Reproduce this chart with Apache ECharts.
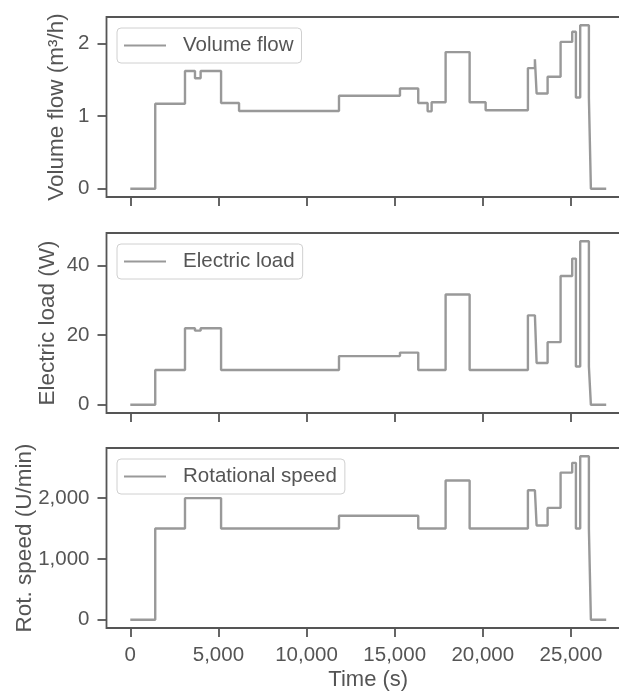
<!DOCTYPE html>
<html>
<head>
<meta charset="utf-8">
<script src="https://cdn.jsdelivr.net/npm/echarts@6/dist/echarts.min.js"></script>
<style>
  html, body { margin: 0; padding: 0; background: #fff; }
  #chart { width: 619px; height: 693px; }
</style>
</head>
<body>
<div id="chart"></div>
<script>
// Shared breakpoints (s); each value holds from its time until the next time
const times = [0, 1415, 3103, 3670, 3990, 5150, 6170, 11840, 15300, 16336, 16868, 17095, 17889, 19251, 20159, 22558, 22955, 23051, 23675, 24412, 25071, 25281, 25525, 26018, 26131, 27000];
const volumeFlow = [0, 1.17, 1.62, 1.52, 1.62, 1.18, 1.07, 1.28, 1.38, 1.18, 1.065, 1.19, 1.88, 1.19, 1.08, 1.66, 1.78, 1.31, 1.54, 2.02, 2.16, 1.255, 2.25, 1.255, 0, 0];
const electricLoad = [0, 10, 22, 21.3, 22, 10, 10, 14, 15, 10, 10, 10, 31.7, 10, 10, 25.7, 25.7, 12, 18, 37, 42, 11, 47, 11, 0, 0];
const rotSpeed = [0, 1500, 2000, 2000, 2000, 1500, 1500, 1710, 1710, 1500, 1500, 1500, 2290, 1500, 1500, 2130, 2130, 1550, 1840, 2420, 2580, 1500, 2690, 1500, 0, 0];

const xTicks = [0, 5000, 10000, 15000, 20000, 25000];
const volTicks = [0, 1, 2];
const loadTicks = [0, 20, 40];
const speedTicks = [0, 1000, 2000];

const seriesNames = ['Volume flow', 'Electric load', 'Rotational speed'];
const yNames = ['Volume flow (m³/h)', 'Electric load (W)', 'Rot. speed (U/min)'];

function fmt(v) { return String(Math.round(v)).replace(/\B(?=(\d{3})+(?!\d))/g, ','); }
function pairs(vals) { return times.map((t, i) => [t, vals[i]]); }
function padRange(vals) {
  const lo = Math.min(...vals), hi = Math.max(...vals), m = (hi - lo) * 0.05;
  return [lo - m, hi + m];
}

const FONT = "'Liberation Sans', Arial, sans-serif";
const SPINE = '#555555';
const TXT = '#555555';
const LINE = '#999999';

const tops = [17, 233, 448];
const gridH = 180;
const xMin = times[0] - (times[times.length - 1] - times[0]) * 0.05;
const xMax = times[times.length - 1] + (times[times.length - 1] - times[0]) * 0.05;

const valueSets = [volumeFlow, electricLoad, rotSpeed];
const yTickSets = [volTicks, loadTicks, speedTicks];
const nameGaps = [49.5, 58.5, 81.5];

const grids = [], xAxes = [], yAxes = [], series = [], legends = [];
for (let i = 0; i < 3; i++) {
  grids.push({ left: 106.5, right: -11, top: tops[i], height: gridH, show: true,
    outerBoundsMode: 'none', containLabel: false,
    borderColor: SPINE, borderWidth: 1.8, backgroundColor: 'transparent' });
  const isBottom = i === 2;
  xAxes.push({
    type: 'value', gridIndex: i, min: xMin, max: xMax,
    axisLine: { show: false, onZero: false },
    splitLine: { show: false },
    axisTick: { show: true, inside: false, length: 9, customValues: xTicks, lineStyle: { color: SPINE, width: 1.8 } },
    axisLabel: { show: isBottom, customValues: xTicks, formatter: fmt, margin: 17,
      fontFamily: FONT, fontSize: 20.5, color: TXT },
    name: isBottom ? 'Time (s)' : '', nameLocation: 'middle', nameGap: 52, nameMoveOverlap: false,
    nameTextStyle: { fontFamily: FONT, fontSize: 22, color: TXT, verticalAlign: 'middle' }
  });
  const r = padRange(valueSets[i]);
  yAxes.push({
    type: 'value', gridIndex: i, min: r[0], max: r[1],
    axisLine: { show: false, onZero: false },
    splitLine: { show: false },
    axisTick: { show: true, inside: false, length: 9, customValues: yTickSets[i], lineStyle: { color: SPINE, width: 1.8 } },
    axisLabel: { customValues: yTickSets[i], formatter: fmt, margin: 17,
      fontFamily: FONT, fontSize: 20.5, color: TXT },
    name: yNames[i], nameLocation: 'middle', nameGap: nameGaps[i], nameMoveOverlap: false,
    nameTextStyle: { fontFamily: FONT, fontSize: 22.5, color: TXT, verticalAlign: 'middle', align: 'center' }
  });
  series.push({
    name: seriesNames[i], type: 'line', xAxisIndex: i, yAxisIndex: i,
    data: pairs(valueSets[i]), step: 'end', showSymbol: false,
    lineStyle: { color: LINE, width: 2.4 }, itemStyle: { color: LINE }
  });
  legends.push({
    data: [seriesNames[i]], left: 117, top: tops[i] + 11, orient: 'horizontal',
    icon: 'rect', itemWidth: 42, itemHeight: 2.2,
    padding: [7, 8, 7, 7],
    borderColor: '#d0d0d0', borderWidth: 1, borderRadius: 4,
    backgroundColor: 'rgba(255,255,255,0.8)',
    textStyle: { fontFamily: FONT, fontSize: 20.5, color: TXT, padding: [0, 0, 0, 12] },
    selectedMode: false
  });
}

const chart = echarts.init(document.getElementById('chart'), null, { renderer: 'canvas' });
chart.setOption({
  animation: false,
  backgroundColor: '#ffffff',
  grid: grids, xAxis: xAxes, yAxis: yAxes, series: series, legend: legends
});
</script>
</body>
</html>
